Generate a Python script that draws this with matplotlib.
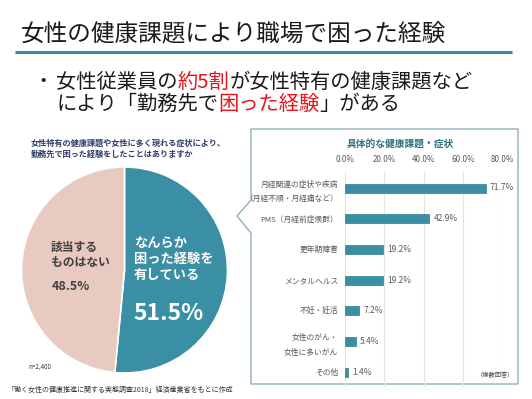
import matplotlib
matplotlib.use("Agg")
import matplotlib.pyplot as plt
from matplotlib.patches import Polygon

plt.rcParams['font.family'] = ['Noto Sans CJK JP', 'DejaVu Sans']

# data
pie_labels = ['なんらか\n困った経験を\n有している', '該当する\nものはない']
pie_values = [51.5, 48.5]

categories = ['月経関連の症状や疾病\n（月経不順・月経痛など）', 'PMS（月経前症候群）', '更年期障害',
              'メンタルヘルス', '不妊・妊活', '女性のがん・\n女性に多いがん', 'その他']
values = [71.7, 42.9, 19.2, 19.2, 7.2, 5.4, 1.4]
xticks = [0, 20, 40, 60, 80]

TEAL = '#3a8fa4'
PINK = '#e8cac0'
W, H = 532, 399

fig = plt.figure(figsize=(W / 100, H / 100), dpi=100)
fig.patch.set_facecolor('white')

# background axes in pixel coordinates
bg = fig.add_axes([0, 0, 1, 1], zorder=0)
bg.set_xlim(0, W)
bg.set_ylim(H, 0)
bg.axis('off')
px = bg.transData


def ax_px(x0, y0, x1, y1, **kw):
    return fig.add_axes([x0 / W, 1 - y1 / H, (x1 - x0) / W, (y1 - y0) / H], **kw)


# title and rule
fig.text(21, 35, '女性の健康課題により職場で困った経験', transform=px, fontsize=17,
         color='#1a1a1a', va='center')
bg.plot([15, 512], [52, 52], color='#3a8da0', lw=2.2, solid_capstyle='butt')

# bullet text
fig.text(43, 82, '・', transform=px, fontsize=14, va='center', ha='center', color='#1a1a1a')
line1 = [('女性従業員の', '#1a1a1a'), ('約5割', '#e8131a'), ('が女性特有の健康課題など', '#1a1a1a')]
line2 = [('により「勤務先で', '#1a1a1a'), ('困った経験', '#e8131a'), ('」がある', '#1a1a1a')]
fig.canvas.draw()
rend = fig.canvas.get_renderer()
for yy, parts in [(82, line1), (104, line2)]:
    x = 56
    for s, c in parts:
        t = fig.text(x, yy, s, transform=px, fontsize=14.6, va='center', color=c)
        bb = t.get_window_extent(rend)
        x += bb.width

# question text
fig.text(31, 143, '女性特有の健康課題や女性に多く現れる症状により、', transform=px,
         fontsize=5.9, fontweight='bold', color='#2f3e6b', va='center')
fig.text(31, 154, '勤務先で困った経験をしたことはありますか', transform=px,
         fontsize=5.9, fontweight='bold', color='#2f3e6b', va='center')

# pie
cx, cy, r = 124.5, 270, 103
pax = ax_px(cx - r, cy - r, cx + r, cy + r, zorder=1)
pax.pie(pie_values, colors=[TEAL, PINK], startangle=90, counterclock=False,
        wedgeprops=dict(edgecolor='white', linewidth=1.2), radius=1)
pax.set_xlim(-1, 1)
pax.set_ylim(-1, 1)
pax.set_aspect('equal')
pax.axis('off')

fig.text(134, 259, pie_labels[0], transform=px, fontsize=9.5, fontweight='bold',
         color='white', va='center', linespacing=1.15)
fig.text(133, 314, f'{pie_values[0]}%', transform=px, fontsize=16.5, fontweight='bold',
         color='white', va='center')
fig.text(51, 255, pie_labels[1], transform=px, fontsize=8.5, fontweight='bold',
         color='#404040', va='center', linespacing=1.25)
fig.text(52, 287, f'{pie_values[1]}%', transform=px, fontsize=9, fontweight='bold',
         color='#404040', va='center')

fig.text(28, 367, 'n=2,400', transform=px, fontsize=4.5, color='#333333', va='center')
fig.text(8, 390, '「働く女性の健康推進に関する実態調査2018」経済産業省をもとに作成', transform=px,
         fontsize=5, color='#333333', va='center')

# callout box
box = Polygon([(251, 129), (518, 129), (518, 384), (251, 384), (251, 233), (237, 216), (251, 200)],
              closed=True, facecolor='white', edgecolor='#8fb0b6', lw=1.0)
bg.add_patch(box)

fig.text(400, 144, '具体的な健康課題・症状', transform=px, fontsize=7, fontweight='bold',
         color='#2e6f80', va='center', ha='center')

# bar chart
step = 30.7
y0, y1 = 172, 387
bax = ax_px(345, y0, 502, y1, zorder=1)
bax.patch.set_alpha(0)
pos = list(range(len(values)))
bax.barh(pos, values, height=9 / step, color=TEAL, edgecolor='#2c7f93', lw=0.5, zorder=3)
bax.set_xlim(0, 80)
bax.set_ylim((y1 - 188) / step, (y0 - 188) / step)
bax.set_xticks(xticks)
bax.set_xticklabels([f'{v:.1f}%' for v in xticks])
bax.xaxis.tick_top()
bax.tick_params(axis='x', length=0, labelsize=5.8, labelcolor='#595959', pad=6)
bax.set_yticks(pos)
bax.set_yticklabels(categories)
bax.tick_params(axis='y', length=0, labelsize=5.6, labelcolor='#595959', pad=5)
for lab in bax.get_yticklabels():
    lab.set_linespacing(2.0)
bax.grid(axis='x', color='#e3e3e3', lw=0.8, zorder=0)
for s in bax.spines.values():
    s.set_visible(False)
for i, v in enumerate(values):
    bax.text(v + 2.2, i, f'{v}%', fontsize=6, color='#595959', va='center')

fig.text(514, 375, '（複数回答）', transform=px, fontsize=4.5, color='#404040', va='center', ha='right')

fig.savefig('out.png', dpi=100, facecolor='white')
